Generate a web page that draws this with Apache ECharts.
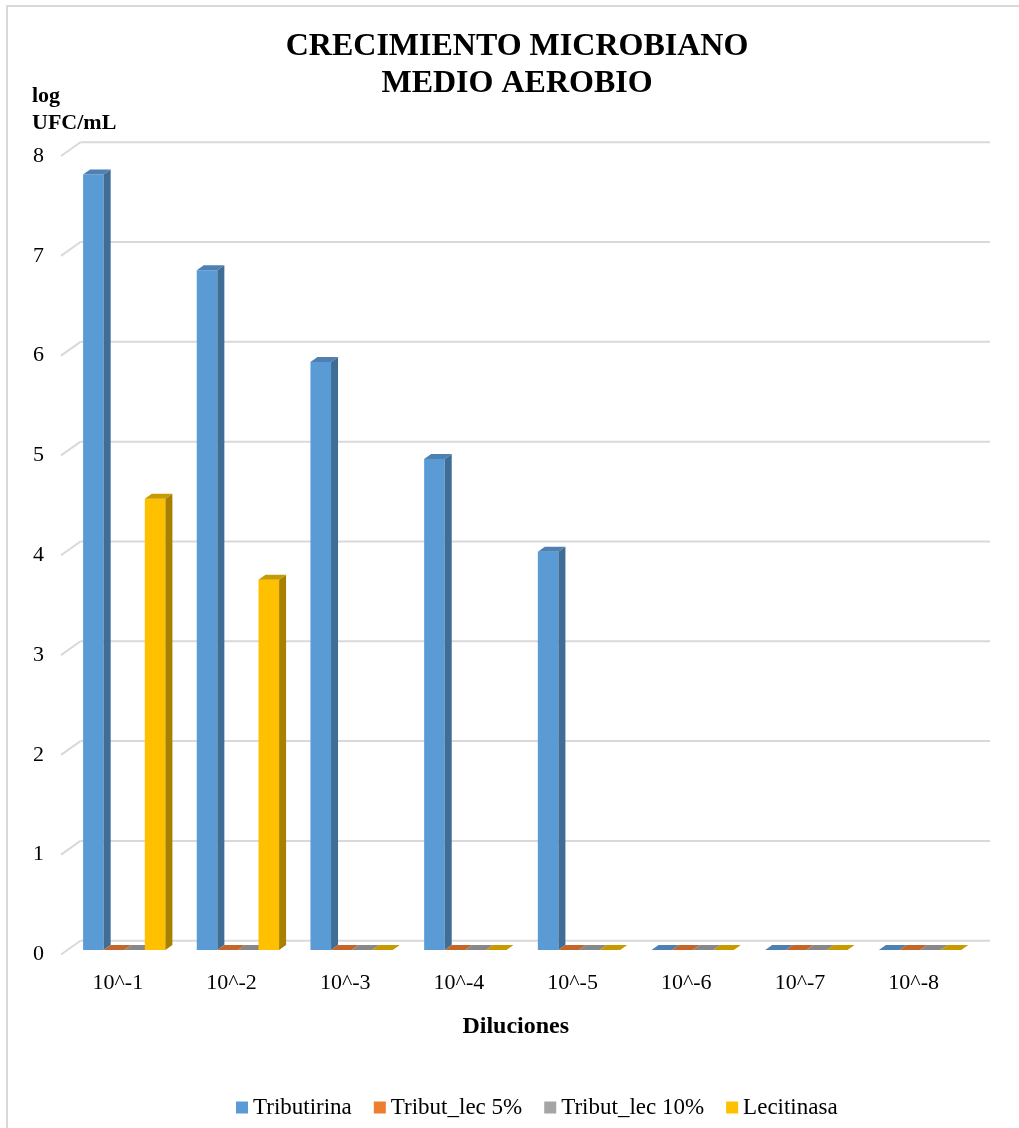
<!DOCTYPE html>
<html>
<head>
<meta charset="utf-8">
<title>Crecimiento microbiano - medio aerobio</title>
<script src="https://cdn.jsdelivr.net/npm/echarts@6/dist/echarts.min.js"></script>
<style>
  html, body { margin: 0; padding: 0; background: #fff; }
  #chart { width: 1019px; height: 1128px; }
</style>
</head>
<body>
<div id="chart"></div>
<script>
// datos
const categories = ['10^-1', '10^-2', '10^-3', '10^-4', '10^-5', '10^-6', '10^-7', '10^-8']
const tributirina = [7.77, 6.81, 5.89, 4.92, 3.99, 0, 0, 0]
const tributLec5 = [0, 0, 0, 0, 0, 0, 0, 0]
const tributLec10 = [0, 0, 0, 0, 0, 0, 0, 0]
const lecitinasa = [4.52, 3.71, 0, 0, 0, 0, 0, 0]
const yTicks = [0, 1, 2, 3, 4, 5, 6, 7, 8]

const FONT = '"Liberation Serif", "Times New Roman", serif'

// 3d look (pixels): bar plane offset, bar depth, back wall offset
const OX = 6.4, OY = -4.5
const DX = 7, DY = -5
const WX = 19.5, WY = -13.8

const palette = [
  { front: '#5B9BD5', side: '#3F6D96', top: '#4E80B2' },
  { front: '#ED7D31', side: '#B05C24', top: '#C4662A' },
  { front: '#A5A5A5', side: '#7A7A7A', top: '#888888' },
  { front: '#FFC000', side: '#A88000', top: '#C79A00' }
]

const bar3d = (si) => (params, api) => {
  const cat = api.value(0)
  const v = api.value(1)
  const top = api.coord([cat, v])
  const base = api.coord([cat, 0])
  const band = api.size([1, 0])[0]
  const w = band * 0.181
  const x0 = top[0] - 2 * w + si * w + OX
  const yt = top[1] + OY
  const yb = base[1] + OY
  const c = palette[si]
  return {
    type: 'group',
    children: [
      {
        type: 'rect',
        shape: { x: x0, y: yt, width: w, height: yb - yt },
        style: { fill: c.front }
      },
      {
        type: 'polygon',
        shape: { points: [[x0 + w, yt], [x0 + w + DX, yt + DY], [x0 + w + DX, yb + DY], [x0 + w, yb]] },
        style: { fill: c.side }
      },
      {
        type: 'polygon',
        shape: { points: [[x0, yt], [x0 + w, yt], [x0 + w + DX, yt + DY], [x0 + DX, yt + DY]] },
        style: { fill: c.top }
      }
    ]
  }
}

const backGrid = (params, api) => {
  const v = api.value(1)
  const band = api.size([1, 0])[0]
  const p0 = api.coord([0, v])
  const p1 = api.coord([categories.length - 1, v])
  const left = p0[0] - band / 2
  const right = p1[0] + band / 2
  const y = p0[1]
  const st = { stroke: '#D9D9D9', lineWidth: 2, fill: null }
  return {
    type: 'group',
    children: [
      { type: 'line', shape: { x1: left, y1: y, x2: left + WX, y2: y + WY }, style: st },
      { type: 'line', shape: { x1: left + WX, y1: y + WY, x2: right + WX, y2: y + WY }, style: st }
    ]
  }
}

const seriesData = [
  ['Tributirina', tributirina],
  ['Tribut_lec 5%', tributLec5],
  ['Tribut_lec 10%', tributLec10],
  ['Lecitinasa', lecitinasa]
]

const chart = echarts.init(document.getElementById('chart'))
chart.setOption({
  animation: false,
  backgroundColor: '#fff',
  title: [
    {
      text: 'CRECIMIENTO MICROBIANO\nMEDIO AEROBIO',
      left: 517,
      top: 28,
      padding: 0,
      textAlign: 'center',
      textStyle: { fontFamily: FONT, fontSize: 32, fontWeight: 'bold', color: '#000', lineHeight: 37 }
    },
    {
      text: 'log\nUFC/mL',
      left: 27,
      top: 78,
      textStyle: { fontFamily: FONT, fontSize: 22, fontWeight: 'bold', color: '#000', lineHeight: 27 }
    }
  ],
  graphic: [
    {
      type: 'rect',
      shape: { x: 7, y: 6, width: 1100, height: 1200 },
      style: { fill: null, stroke: '#D9D9D9', lineWidth: 2 },
      silent: true
    }
  ],
  legend: {
    left: 231,
    top: 1091,
    itemWidth: 12,
    itemHeight: 12,
    itemGap: 22,
    icon: 'rect',
    textStyle: { fontFamily: FONT, fontSize: 23, color: '#000' },
    data: seriesData.map(s => s[0])
  },
  grid: { left: 61, right: 48.5, top: 156, bottom: 173.5 },
  xAxis: {
    type: 'category',
    data: categories,
    axisLine: { show: false },
    axisTick: { show: false },
    splitLine: { show: false },
    axisLabel: { fontFamily: FONT, fontSize: 22, color: '#000', margin: 18 },
    name: 'Diluciones',
    nameLocation: 'middle',
    nameGap: 60,
    nameTextStyle: { fontFamily: FONT, fontSize: 24, fontWeight: 'bold', color: '#000' }
  },
  yAxis: {
    type: 'value',
    min: 0,
    max: 8,
    interval: 1,
    axisLine: { show: false },
    axisTick: { show: false },
    splitLine: { show: false },
    axisLabel: { fontFamily: FONT, fontSize: 22, color: '#000', margin: 17 }
  },
  series: [
    {
      type: 'custom',
      silent: true,
      z: 1,
      renderItem: backGrid,
      data: yTicks.map(t => [0, t])
    },
    ...seriesData.map((s, i) => ({
      name: s[0],
      type: 'custom',
      z: 2,
      itemStyle: { color: palette[i].front },
      renderItem: bar3d(i),
      encode: { x: 0, y: 1 },
      data: s[1].map((v, k) => [k, v])
    }))
  ]
})
</script>
</body>
</html>
